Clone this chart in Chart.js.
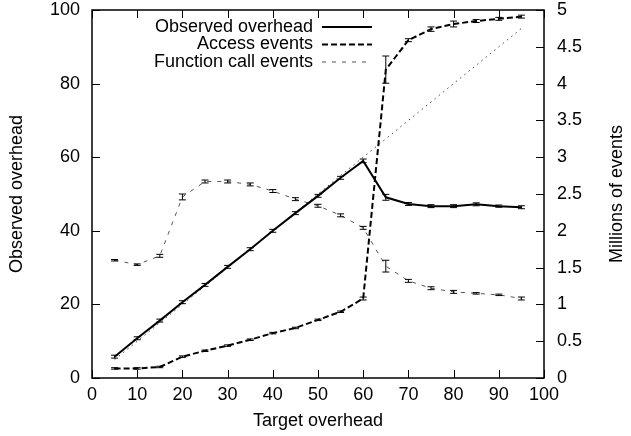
<!DOCTYPE html>
<html>
<head>
<meta charset="utf-8">
<script src="https://cdn.jsdelivr.net/npm/chart.js@4"></script>
<style>
  html, body { margin: 0; padding: 0; background: #fff; }
  #wrap { width: 631px; height: 436px; }
</style>
</head>
<body>
<div id="wrap"><canvas id="myChart" width="631" height="436"></canvas></div>
<script>
// target overhead (%)
const targets = [5, 10, 15, 20, 25, 30, 35, 40, 45, 50, 55, 60, 65, 70, 75, 80, 85, 90, 95];
// observed overhead (%), left axis
const observed = [5.8, 10.8, 15.6, 20.6, 25.3, 30.2, 35.0, 40.0, 44.8, 49.5, 54.4, 59.0, 49.1, 47.3, 46.7, 46.7, 47.2, 46.7, 46.4];
const observedErr = [0.4, 0.4, 0.4, 0.4, 0.4, 0.4, 0.4, 0.4, 0.4, 0.4, 0.4, 0.5, 0.8, 0.4, 0.4, 0.4, 0.4, 0.3, 0.4];
// millions of events, right axis
const accessEvents = [0.13, 0.13, 0.15, 0.29, 0.37, 0.44, 0.52, 0.61, 0.68, 0.79, 0.90, 1.08, 4.19, 4.59, 4.74, 4.81, 4.85, 4.88, 4.91];
const accessErr = [0.01, 0.01, 0.01, 0.01, 0.01, 0.01, 0.01, 0.01, 0.01, 0.01, 0.01, 0.02, 0.185, 0.02, 0.03, 0.04, 0.02, 0.02, 0.02];
const callEvents = [1.60, 1.54, 1.66, 2.46, 2.67, 2.67, 2.63, 2.54, 2.43, 2.34, 2.21, 2.04, 1.52, 1.32, 1.22, 1.17, 1.15, 1.13, 1.08];
const callErr = [0.01, 0.01, 0.02, 0.04, 0.02, 0.02, 0.02, 0.02, 0.02, 0.02, 0.02, 0.02, 0.08, 0.02, 0.02, 0.02, 0.01, 0.01, 0.02];
// target line (observed == target)
const ideal = [5, 10, 15, 20, 25, 30, 35, 40, 45, 50, 55, 60, 65, 70, 75, 80, 85, 90, 95];

const xTicks = [0, 10, 20, 30, 40, 50, 60, 70, 80, 90, 100];
const yTicks = [0, 20, 40, 60, 80, 100];
const y2Ticks = [0, 0.5, 1, 1.5, 2, 2.5, 3, 3.5, 4, 4.5, 5];

const FONT = 'Liberation Sans, Arial, Helvetica, sans-serif';
const FS = 18;

function pts(ys) {
  return targets.map((x, i) => ({ x: x, y: ys[i] }));
}

const legendItems = [
  { label: 'Observed overhead', color: '#000', width: 2, dash: [] },
  { label: 'Access events', color: '#000', width: 2, dash: [6, 3] },
  { label: 'Function call events', color: '#555', width: 1, dash: [4, 6] }
];

// inward ticks, frame, error bars, legend and right title, gnuplot style
const gnuplotLook = {
  id: 'gnuplotLook',
  afterDatasetsDraw(chart) {
    const c = chart.ctx;
    const a = chart.chartArea;
    const sx = chart.scales.x, sy = chart.scales.y, sy2 = chart.scales.y2;
    c.save();
    c.strokeStyle = '#000';
    c.lineWidth = 1;
    c.setLineDash([]);
    const tl = 8;
    xTicks.forEach(v => {
      const px = Math.round(sx.getPixelForValue(v)) + 0.5;
      c.beginPath();
      c.moveTo(px, a.bottom); c.lineTo(px, a.bottom - tl);
      c.moveTo(px, a.top); c.lineTo(px, a.top + tl);
      c.stroke();
    });
    yTicks.forEach(v => {
      const py = Math.round(sy.getPixelForValue(v)) + 0.5;
      c.beginPath();
      c.moveTo(a.left, py); c.lineTo(a.left + tl, py);
      c.stroke();
    });
    y2Ticks.forEach(v => {
      const py = Math.round(sy2.getPixelForValue(v)) + 0.5;
      c.beginPath();
      c.moveTo(a.right, py); c.lineTo(a.right - tl, py);
      c.stroke();
    });
    c.lineWidth = 1.5;
    c.strokeRect(a.left, a.top, a.right - a.left, a.bottom - a.top);

    // error bars
    const errs = [observedErr, accessErr, callErr];
    c.lineWidth = 1;
    [0, 1, 2].forEach(di => {
      const ds = chart.data.datasets[di];
      const ys = chart.scales[ds.yAxisID];
      ds.data.forEach((p, i) => {
        const px = sx.getPixelForValue(p.x);
        const top = ys.getPixelForValue(p.y + errs[di][i]);
        const bot = ys.getPixelForValue(p.y - errs[di][i]);
        c.beginPath();
        c.moveTo(px, top); c.lineTo(px, bot);
        c.moveTo(px - 3.5, top); c.lineTo(px + 3.5, top);
        c.moveTo(px - 3.5, bot); c.lineTo(px + 3.5, bot);
        c.stroke();
      });
    });

    // legend
    c.font = FS + 'px ' + FONT;
    c.fillStyle = '#000';
    c.textAlign = 'right';
    c.textBaseline = 'middle';
    legendItems.forEach((it, i) => {
      const y = 27 + i * 17.5;
      c.fillText(it.label, 313, y);
      c.beginPath();
      c.strokeStyle = it.color;
      c.lineWidth = it.width;
      c.setLineDash(it.dash);
      c.moveTo(322, y); c.lineTo(372, y);
      c.stroke();
    });

    // right axis title, reading bottom to top
    c.translate(617, (a.top + a.bottom) / 2);
    c.rotate(-Math.PI / 2);
    c.textAlign = 'center';
    c.fillText('Millions of events', 0, 0);
    c.restore();
  }
};

function fixV(width) {
  return s => { s.width = width; s.paddingTop = 0; s.paddingBottom = 0; };
}

const ctx = document.getElementById('myChart').getContext('2d');

new Chart(ctx, {
  type: 'line',
  data: {
    datasets: [
      {
        label: 'Observed overhead',
        data: pts(observed),
        yAxisID: 'y',
        borderColor: '#000',
        borderWidth: 2,
        pointRadius: 0,
        tension: 0
      },
      {
        label: 'Access events',
        data: pts(accessEvents),
        yAxisID: 'y2',
        borderColor: '#000',
        borderWidth: 2,
        borderDash: [6, 3],
        pointRadius: 0,
        tension: 0
      },
      {
        label: 'Function call events',
        data: pts(callEvents),
        yAxisID: 'y2',
        borderColor: '#555',
        borderWidth: 1,
        borderDash: [4, 6],
        pointRadius: 0,
        tension: 0
      },
      {
        label: 'Target',
        data: pts(ideal),
        yAxisID: 'y',
        borderColor: '#444',
        borderWidth: 1,
        borderDash: [1.5, 4],
        pointRadius: 0,
        tension: 0
      }
    ]
  },
  options: {
    responsive: false,
    animation: false,
    layout: { padding: { top: 10, left: 0, right: 0, bottom: 0 } },
    scales: {
      x: {
        type: 'linear',
        min: 0,
        max: 100,
        afterBuildTicks: s => { s.ticks = xTicks.map(v => ({ value: v })); },
        afterFit: s => { s.height = 58; s.paddingLeft = 0; s.paddingRight = 0; },
        grid: { display: false, drawTicks: false },
        border: { display: false },
        ticks: { color: '#000', font: { family: FONT, size: FS }, padding: 6, maxRotation: 0 },
        title: { display: true, text: 'Target overhead', color: '#000', font: { family: FONT, size: FS }, padding: { top: 2 } }
      },
      y: {
        position: 'left',
        min: 0,
        max: 100,
        afterBuildTicks: s => { s.ticks = yTicks.map(v => ({ value: v })); },
        afterFit: fixV(92),
        grid: { display: false, drawTicks: false },
        border: { display: false },
        ticks: { color: '#000', font: { family: FONT, size: FS }, padding: 12 },
        title: { display: true, text: 'Observed overhead', color: '#000', font: { family: FONT, size: FS }, padding: { top: 6, bottom: 0 } }
      },
      y2: {
        position: 'right',
        min: 0,
        max: 5,
        afterBuildTicks: s => { s.ticks = y2Ticks.map(v => ({ value: v })); },
        afterFit: fixV(87),
        grid: { display: false, drawTicks: false },
        border: { display: false },
        ticks: { color: '#000', font: { family: FONT, size: FS }, padding: 13, callback: v => String(v) }
      }
    },
    plugins: {
      legend: { display: false },
      tooltip: { enabled: false }
    }
  },
  plugins: [gnuplotLook]
});
</script>
</body>
</html>
